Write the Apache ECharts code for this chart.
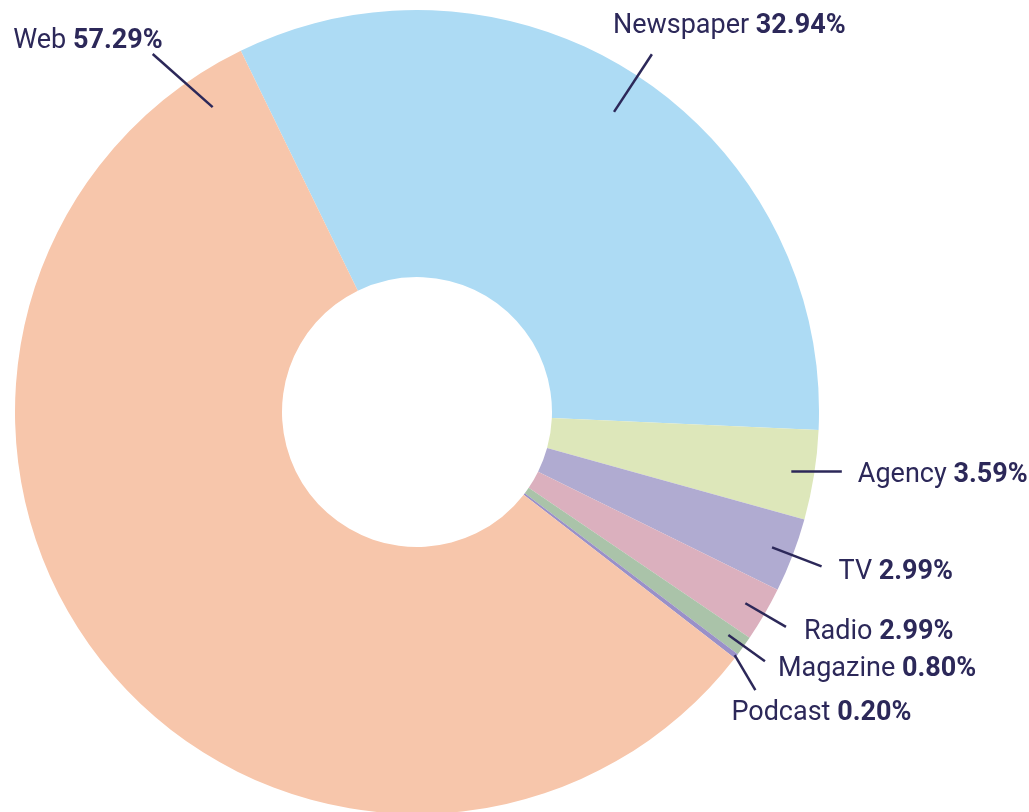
<!DOCTYPE html>
<html lang="en">
<head>
<meta charset="UTF-8">
<title>media share donut</title>
<script src="https://cdn.jsdelivr.net/npm/echarts@6/dist/echarts.min.js"></script>
<style>
	html, body { margin: 0; padding: 0; background: #fff; }
	#chart { width: 1029px; height: 812px; }
</style>
</head>
<body>
<div id="chart"></div>
<script>
	// slices, clockwise from the top-left
	const categories = ['Newspaper', 'Agency', 'TV', 'Radio', 'Magazine', 'Podcast', 'Web'];
	const shares = [32.94, 3.59, 2.99, 2.20, 0.80, 0.20, 57.29];
	// percentages as printed on the chart
	const shareLabels = ['32.94%', '3.59%', '2.99%', '2.99%', '0.80%', '0.20%', '57.29%'];
	const colors = ['#ADDBF4', '#DDE7BA', '#B0ABD1', '#DBB0BE', '#AAC3A9', '#9990C8', '#F7C6AB'];

	// guide line: where it leaves the slice (frac of slice, radius), where it ends, label offset
	const guides = [
		{ frac: 0.5, r0: 359, r1: 428, turn: 0, dx: -39, dy: -28, align: 'left' },
		{ frac: 0.5, r0: 379, r1: 429, turn: -1.05, dx: 16, dy: 4, align: 'left' },
		{ frac: 0.5, r0: 380, r1: 433, turn: 0, dx: 17, dy: 6, align: 'left' },
		{ frac: 0.5, r0: 380, r1: 427, turn: 0, dx: 18, dy: 5, align: 'left' },
		{ frac: 0.5, r0: 383, r1: 428, turn: 0, dx: 13, dy: 8, align: 'left' },
		{ frac: 0.5, r0: 400, r1: 438, turn: 2, dx: -24, dy: 23, align: 'left' },
		{ frac: 0.962, r0: 367, r1: 445, turn: -2.6, dx: 10, dy: -13, align: 'right' }
	];

	const CX = 417, CY = 412, START = 116;
	const navy = '#2C2859';
	const total = shares.reduce((s, v) => s + v, 0);

	function sliceAngles(i) {
		let before = 0;
		for (let k = 0; k < i; k++) before += shares[k];
		let s = -START * Math.PI / 180 + before / total * 2 * Math.PI;
		return [s, s + shares[i] / total * 2 * Math.PI];
	}

	let pieBase = {
		type: 'pie',
		center: [CX, CY],
		radius: [135, 402],
		startAngle: START,
		clockwise: true,
		avoidLabelOverlap: false,
		emphasis: { disabled: true },
		silent: true
	};

	let chart = echarts.init(document.getElementById('chart'));
	chart.setOption({
		backgroundColor: '#fff',
		animation: false,
		series: [
			Object.assign({}, pieBase, {
				z: 2,
				data: categories.map((name, i) => ({
					name: name,
					value: shares[i],
					itemStyle: { color: colors[i], borderWidth: 0 }
				})),
				label: { show: false },
				labelLine: { show: false }
			}),
			// same slices, transparent, only to carry labels and guide lines above the fill
			Object.assign({}, pieBase, {
				z: 3,
				data: categories.map((name, i) => ({
					name: name,
					value: shares[i],
					itemStyle: { color: 'rgba(0,0,0,0)', borderWidth: 0 }
				})),
				label: {
					show: true,
					position: 'outside',
					formatter: p => '{n|' + p.name + ' }{v|' + shareLabels[p.dataIndex] + '}',
					rich: {
						n: { fontFamily: 'Roboto', fontSize: 27, color: navy },
						v: { fontFamily: 'Roboto', fontSize: 27, fontWeight: 'bold', color: navy }
					}
				},
				labelLine: {
					show: true,
					smooth: false,
					lineStyle: { color: navy, width: 2.5 }
				},
				labelLayout: function (p) {
					let i = p.dataIndex, g = guides[i];
					let ang = sliceAngles(i);
					let a0 = ang[0] + (ang[1] - ang[0]) * g.frac;
					let a1 = a0 + g.turn * Math.PI / 180;
					let p0 = [CX + g.r0 * Math.cos(a0), CY + g.r0 * Math.sin(a0)];
					let p1 = [CX + g.r1 * Math.cos(a1), CY + g.r1 * Math.sin(a1)];
					return {
						x: p1[0] + g.dx,
						y: p1[1] + g.dy,
						align: g.align,
						verticalAlign: 'middle',
						labelLinePoints: [p0, p1, p1]
					};
				}
			})
		]
	});
</script>
</body>
</html>
